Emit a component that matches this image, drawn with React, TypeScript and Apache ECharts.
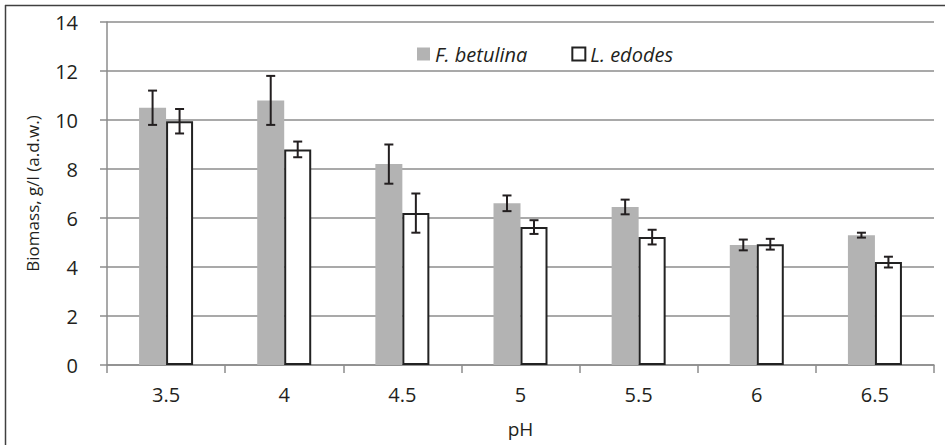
import React, { useEffect, useRef } from "react";
import * as echarts from "echarts";

const categories = ["3.5", "4", "4.5", "5", "5.5", "6", "6.5"];
const betulina = [10.5, 10.8, 8.2, 6.6, 6.45, 4.9, 5.3];
const betulinaErr = [0.7, 1.0, 0.8, 0.32, 0.3, 0.22, 0.1];
const edodes = [9.95, 8.8, 6.2, 5.63, 5.22, 4.93, 4.2];
const edodesErr = [0.5, 0.32, 0.8, 0.28, 0.3, 0.22, 0.22];
const yTicks = [0, 2, 4, 6, 8, 10, 12, 14];

const FONT = "'Open Sans', Lato, sans-serif";
const TXT = "#231f20";
const BAR_W = 27;

function errorSeries(name: string, vals: number[], errs: number[], offset: number) {
  return {
    type: "custom",
    name,
    z: 10,
    silent: true,
    data: vals.map((v, i) => [i, v - errs[i], v + errs[i]]),
    renderItem: (params: any, api: any) => {
      const i = api.value(0);
      const lo = api.coord([i, api.value(1)]);
      const hi = api.coord([i, api.value(2)]);
      const x = lo[0] + offset;
      const cap = 4.5;
      const style = { stroke: "#231f20", lineWidth: 2 };
      return {
        type: "group",
        children: [
          { type: "line", shape: { x1: x, y1: lo[1], x2: x, y2: hi[1] }, style },
          { type: "line", shape: { x1: x - cap, y1: lo[1], x2: x + cap, y2: lo[1] }, style },
          { type: "line", shape: { x1: x - cap, y1: hi[1], x2: x + cap, y2: hi[1] }, style },
        ],
      };
    },
  };
}

export default function App() {
  const ref = useRef<HTMLDivElement>(null);
  useEffect(() => {
    if (!ref.current) return;
    const chart = echarts.init(ref.current, null, { renderer: "svg" });
    chart.setOption({
      animation: false,
      backgroundColor: "#ffffff",
      textStyle: { fontFamily: FONT },
      graphic: [
        { type: "line", shape: { x1: 5, y1: 5.5, x2: 945, y2: 5.5 }, style: { stroke: "#404040", lineWidth: 1.5 } },
        { type: "line", shape: { x1: 5.5, y1: 5, x2: 5.5, y2: 445 }, style: { stroke: "#404040", lineWidth: 1.5 } },
      ],
      legend: {
        left: 412,
        top: 39,
        itemWidth: 13,
        itemHeight: 13,
        itemGap: 44,
        icon: "rect",
        textStyle: { fontFamily: FONT, fontSize: 20, fontStyle: "italic", color: TXT, padding: [0, 0, 0, 0] },
        data: [
          { name: "F. betulina", itemStyle: { color: "#b3b3b3", borderWidth: 0 } },
          { name: "L. edodes", itemStyle: { color: "#ffffff", borderColor: "#222", borderWidth: 2 } },
        ],
      },
      grid: { left: 107, right: 11, top: 22, bottom: 80 },
      xAxis: {
        type: "category",
        data: categories,
        name: "pH",
        nameLocation: "middle",
        nameGap: 54,
        nameTextStyle: { fontFamily: FONT, fontSize: 19, color: TXT },
        axisLine: { lineStyle: { color: "#8c8c8c", width: 1.5 } },
        axisTick: { show: true, length: 8, lineStyle: { color: "#8c8c8c", width: 1.5 } },
        axisLabel: { fontFamily: FONT, fontSize: 20, color: TXT, margin: 19 },
      },
      yAxis: {
        type: "value",
        min: 0,
        max: 14,
        interval: 2,
        name: "Biomass, g/l (a.d.w.)",
        nameLocation: "middle",
        nameGap: 66,
        nameTextStyle: { fontFamily: FONT, fontSize: 17, color: TXT },
        axisLine: { show: true, lineStyle: { color: "#8c8c8c", width: 1.5 } },
        axisTick: { show: true, length: 7, lineStyle: { color: "#8c8c8c", width: 1.5 } },
        axisLabel: {
          fontFamily: FONT,
          fontSize: 20,
          color: TXT,
          margin: 29,
          formatter: (v: number) => (yTicks.includes(v) ? String(v) : ""),
        },
        splitLine: { lineStyle: { color: "#8c8c8c", width: 1.5 } },
      },
      series: [
        {
          type: "bar",
          name: "F. betulina",
          data: betulina,
          barWidth: BAR_W,
          barGap: "0%",
          itemStyle: { color: "#b3b3b3" },
        },
        {
          type: "bar",
          name: "L. edodes",
          data: edodes,
          barWidth: BAR_W,
          barGap: "0%",
          itemStyle: { color: "#ffffff", borderColor: "#222", borderWidth: 2 },
        },
        errorSeries("errB", betulina, betulinaErr, -BAR_W / 2),
        errorSeries("errE", edodes, edodesErr, BAR_W / 2),
      ],
    });
    return () => chart.dispose();
  }, []);
  return <div ref={ref} style={{ width: 945, height: 445, position: "absolute", left: 0, top: 0 }} />;
}
